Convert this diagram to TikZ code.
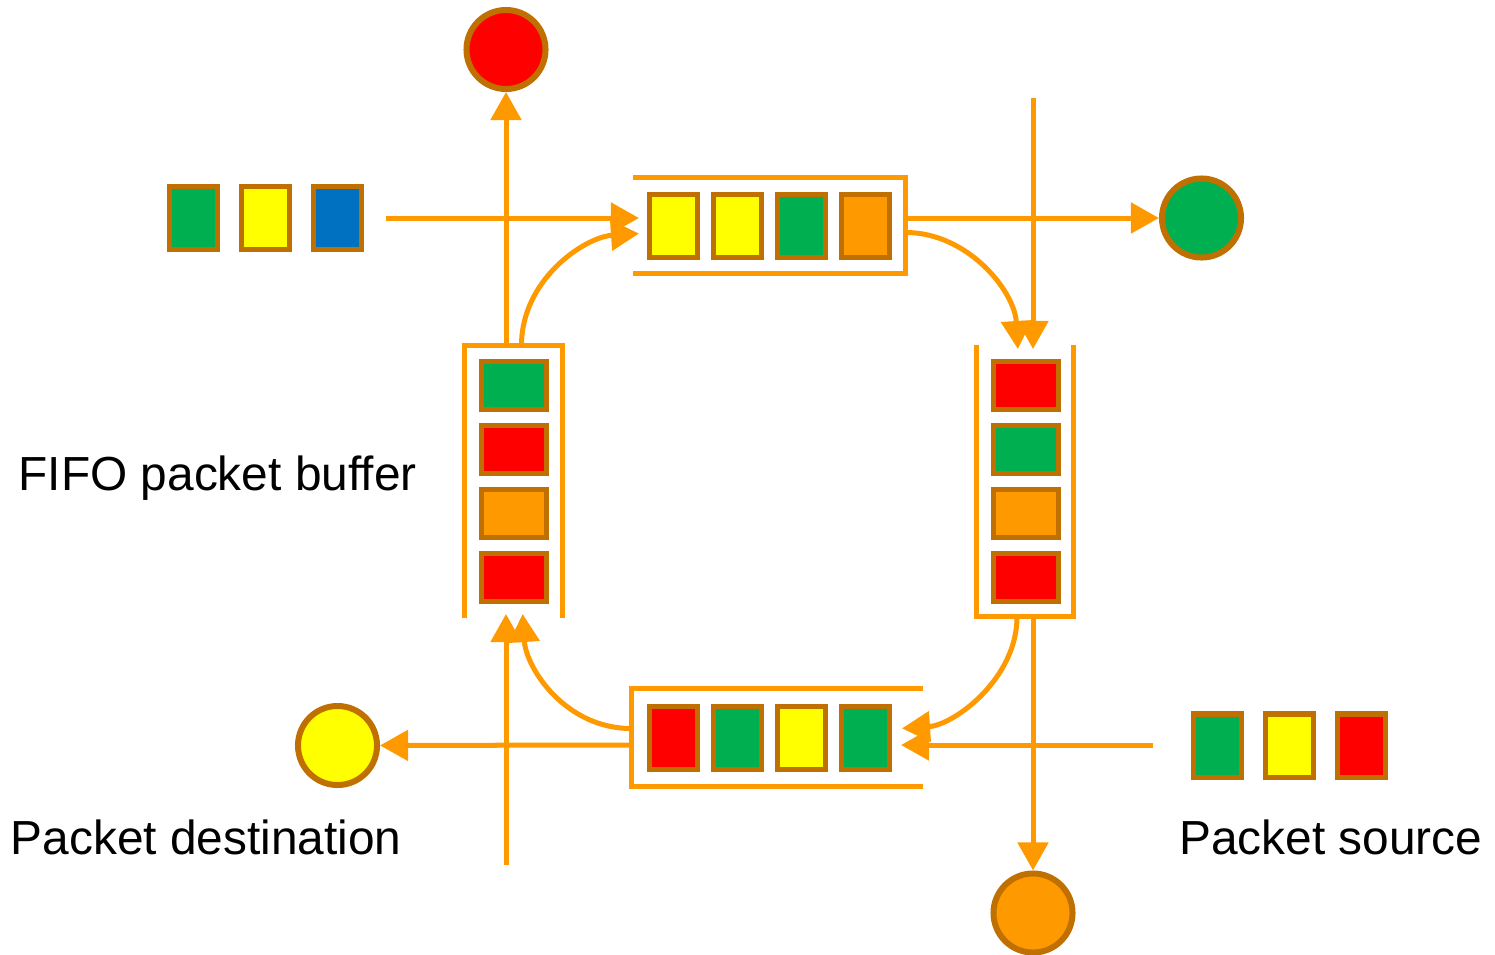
\documentclass[tikz,border=0pt]{standalone}
\usepackage{fontspec}
\setmainfont{Liberation Sans}
\usetikzlibrary{arrows.meta}
\usepackage{xcolor}

\definecolor{pkorange}{HTML}{FF9900}
\definecolor{pkbrown}{HTML}{C07000}
\definecolor{pkgreen}{HTML}{00B050}
\definecolor{pkyellow}{HTML}{FFFF00}
\definecolor{pkblue}{HTML}{0070C0}
\definecolor{pkred}{HTML}{FF0000}

\tikzset{
  hcell/.style={rectangle, draw=pkbrown, line width=0.05cm, inner sep=0,
    minimum width=0.48cm, minimum height=0.63cm},
  vcell/.style={rectangle, draw=pkbrown, line width=0.05cm, inner sep=0,
    minimum width=0.65cm, minimum height=0.48cm},
  hub/.style={circle, draw=pkbrown, line width=0.06cm, inner sep=0, minimum size=0.79cm},
  bufbox/.style={rectangle, inner sep=0},
  bufline/.style={draw=pkorange, line width=0.05cm},
  wire/.style={draw=pkorange, line width=0.05cm, -{Triangle[length=0.28cm,width=0.3cm]}},
  label/.style={inner sep=0, font=\fontsize{13.6}{16}\selectfont}
}

\begin{document}
\begin{tikzpicture}[x=0.01cm, y=-0.01cm]
      % \draw[help lines, gray!50, very thin] (0,0) grid[step=100] (1495,954);
      \useasboundingbox (0,0) rectangle (1495,954);

      % buffers
      \node[bufbox, minimum width=2.71cm, minimum height=0.95cm] (topbuf) at (769.5,225.5) {};
      \node[bufbox, minimum width=2.90cm, minimum height=0.97cm] (botbuf) at (777,737.5) {};
      \node[bufbox, minimum width=0.97cm, minimum height=2.71cm] (leftbuf) at (513.5,481.5) {};
      \node[bufbox, minimum width=0.96cm, minimum height=2.70cm] (rightbuf) at (1025,481) {};

      \draw[bufline] (topbuf.north west) -- (topbuf.north east) -- (topbuf.south east) -- (topbuf.south west);
      \draw[bufline] (botbuf.north east) -- (botbuf.north west) -- (botbuf.south west) -- (botbuf.south east);
      \draw[bufline] (leftbuf.south west) -- (leftbuf.north west) -- (leftbuf.north east) -- (leftbuf.south east);
      \draw[bufline] (rightbuf.north west) -- (rightbuf.south west) -- (rightbuf.south east) -- (rightbuf.north east);

      \foreach \c [count=\i] in {pkyellow,pkyellow,pkgreen,pkorange}
        \node[hcell, fill=\c] (tc\i) at (609.5+64*\i,226) {};
      \foreach \c [count=\i] in {pkred,pkgreen,pkyellow,pkgreen}
        \node[hcell, fill=\c] (bc\i) at (609.5+64*\i,738) {};
      \foreach \c [count=\i] in {pkgreen,pkred,pkorange,pkred}
        \node[vcell, fill=\c] (lc\i) at (514,321.5+64*\i) {};
      \foreach \c [count=\i] in {pkred,pkgreen,pkorange,pkred}
        \node[vcell, fill=\c] (rc\i) at (1025.5,321.5+64*\i) {};

      % waiting packets
      \foreach \c [count=\i] in {pkgreen,pkyellow,pkblue}
        \node[hcell, fill=\c] (sa\i) at (121.5+72*\i,218) {};
      \foreach \c [count=\i] in {pkgreen,pkyellow,pkred}
        \node[hcell, fill=\c] (sb\i) at (1145.5+72*\i,745.5) {};

      % destinations
      \node[hub, fill=pkred] (red) at (506,49.5) {};
      \node[hub, fill=pkgreen] (green) at (1201.5,218) {};
      \node[hub, fill=pkyellow] (yellow) at (337.5,745.5) {};
      \node[hub, fill=pkorange] (orange) at (1033,913) {};

      \coordinate (aIn) at (386,218);
      \coordinate (bIn) at (1033,98);
      \coordinate (cIn) at (1153,745);
      \coordinate (dIn) at (506,865);

      % injection
      \draw[wire, shorten >=0.08cm] (aIn) -- (aIn -| tc1.west);
      \draw[wire, shorten >=0.1cm] (bIn) -- (bIn |- rc1.north);
      \draw[wire, shorten >=0.09cm] (cIn) -- (cIn -| bc4.east);
      \draw[wire, shorten >=0.1cm] (dIn) -- (dIn |- lc4.south);

      % ejection
      \draw[wire] (topbuf.east |- aIn) -- (green);
      \draw[wire] (rightbuf.south -| bIn) -- (orange);
      \draw[wire] (botbuf.west |- cIn) -- (yellow);
      \draw[wire] (leftbuf.north -| dIn) -- (red);

      % ring
      \draw[wire, shorten >=0.1cm] ([yshift=-0.07cm]topbuf.east) .. controls +(62,0) and +(-4,-68) .. ([xshift=-0.07cm]rc1.north);
      \draw[wire, shorten >=0.1cm] ([xshift=-0.08cm]rightbuf.south) .. controls +(0,62) and +(62,-4) .. ([yshift=0.09cm]bc4.east);
      \draw[wire, shorten >=0.1cm] ([yshift=0.09cm]botbuf.west) .. controls +(-66,0) and +(4,64) .. ([xshift=0.08cm]lc4.south);
      \draw[wire, shorten >=0.08cm] ([xshift=0.08cm]leftbuf.north) .. controls +(0,-66) and +(-62,4) .. ([yshift=-0.07cm]tc1.west);

      \node[label, anchor=base west] (fifo) at (18,490) {FIFO packet buffer};
      \node[label, anchor=base west] (dest) at (10,854) {Packet destination};
      \node[label, anchor=base east] (src) at (1483,854) {Packet source};
\end{tikzpicture}
\end{document}
